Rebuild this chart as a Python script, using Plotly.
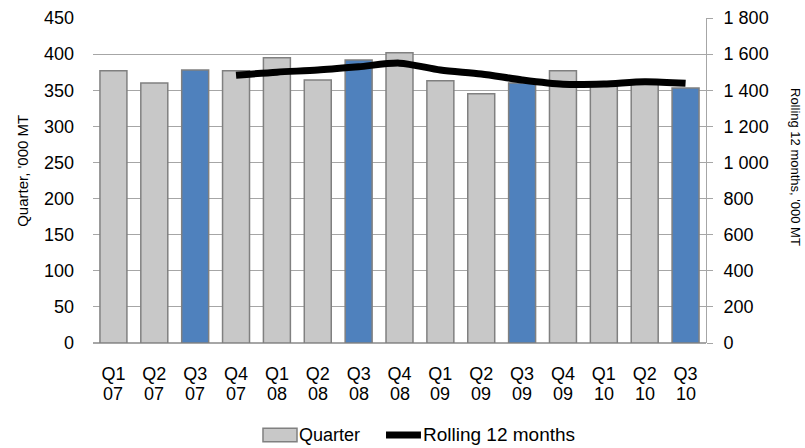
import plotly.graph_objects as go

# Quarterly volumes and rolling 12-month totals, '000 MT
periods = ["Q1 07", "Q2 07", "Q3 07", "Q4 07",
           "Q1 08", "Q2 08", "Q3 08", "Q4 08",
           "Q1 09", "Q2 09", "Q3 09", "Q4 09",
           "Q1 10", "Q2 10", "Q3 10"]
quarter_values = [377, 360, 378, 377, 395, 364, 392, 402,
                  363, 345, 360, 377, 357, 360, 353]
rolling_12m = [None, None, None, 1483, 1500, 1512, 1530, 1550,
               1512, 1490, 1457, 1433, 1434, 1447, 1438]

left_ticks = list(range(0, 451, 50))
right_ticks = list(range(0, 1801, 200))

quarter_part = [p.split()[0] for p in periods]
year_part = [p.split()[1] for p in periods]

GREY = "#c8c8c8"
BLUE = "#4f81bd"
EDGE = "#808080"
bar_colors = [BLUE if q == "Q3" else GREY for q in quarter_part]

font = "Liberation Sans, Arial, sans-serif"

fig = go.Figure()
fig.add_trace(go.Bar(
    x=periods, y=quarter_values, name="Quarter",
    marker=dict(color=bar_colors, line=dict(color=EDGE, width=1.5)),
    yaxis="y", showlegend=False,
))
fig.add_trace(go.Scatter(
    x=periods, y=rolling_12m, name="Rolling 12 months",
    mode="lines", line=dict(color="black", width=7, shape="spline", smoothing=0.8),
    yaxis="y2", connectgaps=False, showlegend=False,
))

# second row of the category labels (year)
year_labels = [
    dict(text=y, x=p, xref="x", yref="paper", y=-0.12, yanchor="top",
         xanchor="center", showarrow=False, font=dict(size=18))
    for p, y in zip(periods, year_part)
]

# legend drawn below the chart: swatch + label for each series
legend_y = -0.283
legend_shapes = [
    dict(type="rect", xref="paper", yref="paper",
         x0=0.2773, x1=0.3328, y0=-0.304, y1=-0.262,
         fillcolor=GREY, line=dict(color=EDGE, width=1.5)),
    dict(type="line", xref="paper", yref="paper",
         x0=0.4780, x1=0.5350, y0=legend_y, y1=legend_y,
         line=dict(color="black", width=7)),
]
legend_texts = [
    dict(text="Quarter", xref="paper", yref="paper", x=0.3330, y=legend_y,
         xanchor="left", yanchor="middle", showarrow=False, font=dict(size=18)),
    dict(text="Rolling 12 months", xref="paper", yref="paper", x=0.5350,
         y=legend_y, xanchor="left", yanchor="middle", showarrow=False,
         font=dict(size=19)),
]

fig.update_layout(
    width=805, height=448,
    margin=dict(l=93, r=99, t=18, b=105, autoexpand=False),
    plot_bgcolor="white", paper_bgcolor="white",
    font=dict(family=font, size=18, color="#000000"),
    bargap=0.34,
    separators=". ",
    showlegend=False,
    xaxis=dict(showgrid=False, showline=False, ticks="", automargin=False,
               tickvals=periods, ticktext=quarter_part,
               ticklabelstandoff=18, tickfont=dict(size=18)),
    yaxis=dict(range=[0, 450], tickvals=left_ticks, showgrid=True,
               gridcolor="#a6a6a6", gridwidth=1, zeroline=True,
               zerolinecolor="#a6a6a6", showline=False, ticks="",
               automargin=False, ticklabelstandoff=18, tickfont=dict(size=18)),
    yaxis2=dict(range=[0, 1800], tickvals=right_ticks, tickformat=",d",
                overlaying="y", side="right", showgrid=False, zeroline=False,
                showline=True, linecolor="#a6a6a6", ticks="outside",
                ticklen=6, tickcolor="#a6a6a6", automargin=False,
                ticklabelstandoff=7, tickfont=dict(size=18)),
    shapes=legend_shapes,
    annotations=year_labels + legend_texts + [
        dict(text="Quarter, '000 MT", xref="paper", yref="paper",
             x=-0.114, y=0.53, textangle=-90, showarrow=False,
             font=dict(size=15), xanchor="center", yanchor="middle"),
        dict(text="Rolling 12 months, '000 MT", xref="paper", yref="paper",
             x=1.146, y=0.54, textangle=90, showarrow=False,
             font=dict(size=13), xanchor="center", yanchor="middle"),
    ],
)

fig.write_html("out.html")
